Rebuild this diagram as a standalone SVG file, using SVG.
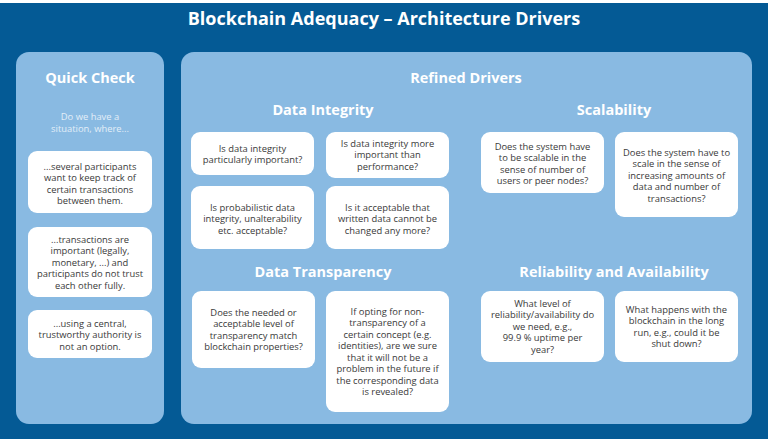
<svg xmlns="http://www.w3.org/2000/svg" width="768" height="439" viewBox="0 0 768 439">
<style>
.bg{fill:#045A95}
.panel{fill:#89BAE2}
.box{fill:#FFFFFF}
.t{font-family:"Open Sans","Liberation Sans",sans-serif;font-size:9.4px;fill:#3A3A3A;text-anchor:middle}
.h1{font-family:"Open Sans","Liberation Sans",sans-serif;font-size:18px;font-weight:bold;fill:#FFFFFF;text-anchor:middle}
.h2{font-family:"Open Sans","Liberation Sans",sans-serif;font-size:14.5px;font-weight:bold;fill:#FFFFFF;text-anchor:middle}
.sub{font-family:"Open Sans","Liberation Sans",sans-serif;font-size:9.4px;fill:#E3EEF8;text-anchor:middle}
</style>
<rect x="0" y="0" width="768" height="439" fill="#FFFFFF"/>
<rect class="bg" x="0" y="3" width="768" height="436"/>
<text class="h1" x="384" y="25">Blockchain Adequacy – Architecture Drivers</text>

<g id="quick-check">
<rect class="panel" x="16" y="52" width="148" height="372" rx="13"/>
<text class="h2" x="90" y="83">Quick Check</text>
<text class="sub" x="90" y="120">Do we have a</text>
<text class="sub" x="90" y="131.5">situation, where...</text>
</g>
<g id="qc1">
<rect class="box" x="28" y="151" width="124" height="62" rx="9"/>
<text class="t" x="90" y="169.5">...several participants</text>
<text class="t" x="90" y="181">want to keep track of</text>
<text class="t" x="90" y="192.5">certain transactions</text>
<text class="t" x="90" y="204">between them.</text>
</g>
<g id="qc2">
<rect class="box" x="28" y="227" width="124" height="70" rx="9"/>
<text class="t" x="90" y="242.5">...transactions are</text>
<text class="t" x="90" y="254">important (legally,</text>
<text class="t" x="90" y="265.5">monetary, ...) and</text>
<text class="t" x="90" y="277">participants do not trust</text>
<text class="t" x="90" y="288.5">each other fully.</text>
</g>
<g id="qc3">
<rect class="box" x="28" y="310" width="124" height="48" rx="9"/>
<text class="t" x="90" y="326.5">...using a central,</text>
<text class="t" x="90" y="338">trustworthy authority is</text>
<text class="t" x="90" y="349.5">not an option.</text>
</g>

<g id="refined-drivers">
<rect class="panel" x="181" y="52" width="571" height="372" rx="13"/>
<text class="h2" x="466" y="83">Refined Drivers</text>
<text class="h2" x="323" y="115">Data Integrity</text>
<text class="h2" x="614" y="115">Scalability</text>
<text class="h2" x="323" y="277">Data Transparency</text>
<text class="h2" x="614" y="277">Reliability and Availability</text>
</g>

<g id="di1">
<rect class="box" x="191" y="132" width="123" height="43" rx="9"/>
<text class="t" x="252.5" y="151.5">Is data integrity</text>
<text class="t" x="252.5" y="163">particularly important?</text>
</g>
<g id="di2">
<rect class="box" x="326" y="132" width="123" height="46" rx="9"/>
<text class="t" x="387.5" y="146.5">Is data integrity more</text>
<text class="t" x="387.5" y="158">important than</text>
<text class="t" x="387.5" y="169.5">performance?</text>
</g>
<g id="di3">
<rect class="box" x="191" y="186" width="123" height="63" rx="9"/>
<text class="t" x="252.5" y="210.5">Is probabilistic data</text>
<text class="t" x="252.5" y="222">integrity, unalterability</text>
<text class="t" x="252.5" y="233.5">etc. acceptable?</text>
</g>
<g id="di4">
<rect class="box" x="326" y="186" width="123" height="63" rx="9"/>
<text class="t" x="387.5" y="210.5">Is it acceptable that</text>
<text class="t" x="387.5" y="222">written data cannot be</text>
<text class="t" x="387.5" y="233.5">changed any more?</text>
</g>

<g id="dt1">
<rect class="box" x="192" y="291" width="123" height="77" rx="9"/>
<text class="t" x="253.5" y="315.5">Does the needed or</text>
<text class="t" x="253.5" y="327">acceptable level of</text>
<text class="t" x="253.5" y="338.5">transparency match</text>
<text class="t" x="253.5" y="350">blockchain properties?</text>
</g>
<g id="dt2">
<rect class="box" x="326" y="291" width="123" height="121" rx="9"/>
<text class="t" x="387.5" y="314.5">If opting for non-</text>
<text class="t" x="387.5" y="326">transparency of a</text>
<text class="t" x="387.5" y="337.5">certain concept (e.g.</text>
<text class="t" x="387.5" y="349">identities), are we sure</text>
<text class="t" x="387.5" y="360.5">that it will not be a</text>
<text class="t" x="387.5" y="372">problem in the future if</text>
<text class="t" x="387.5" y="383.5">the corresponding data</text>
<text class="t" x="387.5" y="395">is revealed?</text>
</g>

<g id="sc1">
<rect class="box" x="481" y="132" width="123" height="61" rx="9"/>
<text class="t" x="542.5" y="149.5">Does the system have</text>
<text class="t" x="542.5" y="161">to be scalable in the</text>
<text class="t" x="542.5" y="172.5">sense of number of</text>
<text class="t" x="542.5" y="184">users or peer nodes?</text>
</g>
<g id="sc2">
<rect class="box" x="615" y="132" width="123" height="85" rx="9"/>
<text class="t" x="676.5" y="155.5">Does the system have to</text>
<text class="t" x="676.5" y="167">scale in the sense of</text>
<text class="t" x="676.5" y="178.5">increasing amounts of</text>
<text class="t" x="676.5" y="190">data and number of</text>
<text class="t" x="676.5" y="201.5">transactions?</text>
</g>

<g id="ra1">
<rect class="box" x="481" y="291" width="123" height="71" rx="9"/>
<text class="t" x="542.5" y="306.5">What level of</text>
<text class="t" x="542.5" y="318">reliability/availability do</text>
<text class="t" x="542.5" y="329.5">we need, e.g.,</text>
<text class="t" x="542.5" y="341">99.9 % uptime per</text>
<text class="t" x="542.5" y="352.5">year?</text>
</g>
<g id="ra2">
<rect class="box" x="615" y="291" width="123" height="71" rx="9"/>
<text class="t" x="676.5" y="312.5">What happens with the</text>
<text class="t" x="676.5" y="324">blockchain in the long</text>
<text class="t" x="676.5" y="335.5">run, e.g., could it be</text>
<text class="t" x="676.5" y="347">shut down?</text>
</g>
<g id="connectors"></g>
</svg>
